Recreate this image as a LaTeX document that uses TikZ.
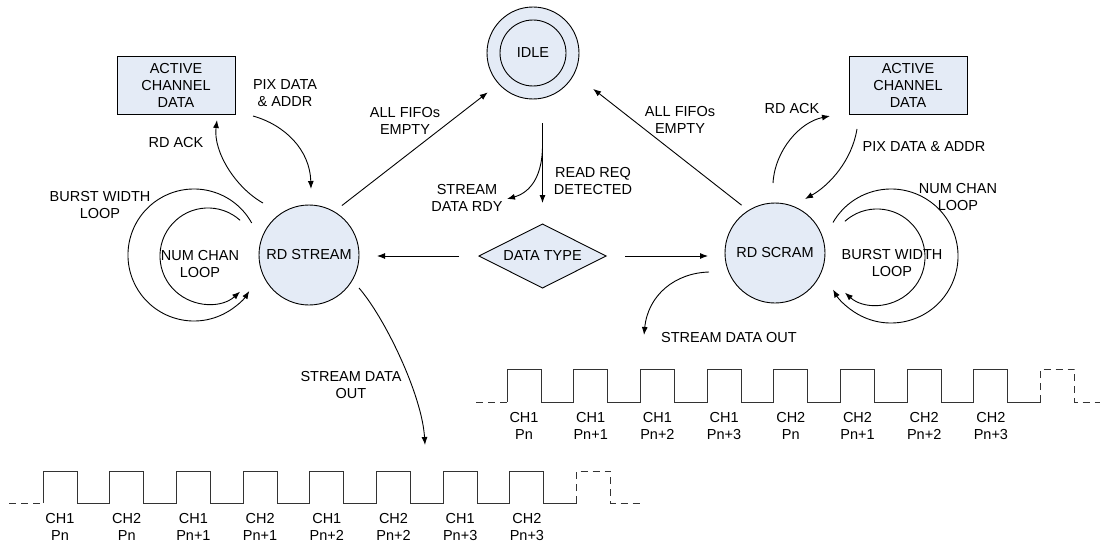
\documentclass[tikz,border=0pt]{standalone}
\usepackage{fontspec}
\setmainfont{Liberation Sans}
\usetikzlibrary{arrows.meta,shapes.geometric,calc}
\definecolor{nodefill}{RGB}{228,235,246}
\begin{document}
\begin{tikzpicture}[x=1pt,y=-1pt,
  every node/.style={font=\fontsize{14.5}{17}\selectfont},
  state/.style={circle,draw,fill=nodefill,line width=0.9pt,inner sep=0pt,outer sep=0pt,minimum size=100pt},
  chanbox/.style={rectangle,draw,fill=nodefill,line width=0.9pt,minimum width=118pt,minimum height=58pt,align=center,inner sep=0pt,outer sep=0pt},
  lbl/.style={align=center,inner sep=0pt},
  arr/.style={-{Latex[length=8pt,width=6pt]},line width=0.9pt},
  wave/.style={line width=0.9pt,black!80},
  wdash/.style={wave,dash pattern=on 7pt off 5pt}]
\useasboundingbox (0,0) rectangle (1100,543);

% nodes
\node[state,minimum size=92pt] (idle) at (533,53) {};
\node[state,minimum size=66pt] (idlein) at (idle.center) {IDLE};
\node[state] (rdstream) at (309,255) {RD STREAM};
\node[state] (rdscram) at (775,253) {RD SCRAM};
\node[diamond,draw,fill=nodefill,line width=0.9pt,aspect=2,inner sep=0pt,outer sep=0pt,minimum width=127pt,minimum height=64pt] (dtype) at (542.5,256) {DATA TYPE};
\node[chanbox] (boxL) at (176,85) {ACTIVE\\CHANNEL\\DATA};
\node[chanbox] (boxR) at (908,85) {ACTIVE\\CHANNEL\\DATA};

% connectors
\draw[arr,shorten <=10pt,shorten >=14pt] (rdstream.60) -- (idle.222);
\draw[arr,shorten <=24pt,shorten >=21pt] (dtype.north |- idle.south) -- (dtype.north);
\coordinate (rdyTip) at (507,199);
\draw[arr] ($(dtype.north |- idle.south)+(0,46)$) .. controls +(0,38) and +(18,-5) .. (rdyTip);
\draw[arr,shorten <=20pt,shorten >=18pt] (dtype.west) -- (dtype.west -| rdstream.east);
\draw[arr,shorten <=19pt,shorten >=17pt] (dtype.east) -- (dtype.east -| rdscram.west);
\draw[arr,shorten <=8.8pt,shorten >=24.3pt] (rdscram.122) -- (idle.333);

\draw[arr] ([shift={(-46,-52)}]rdstream.center) .. controls +(-27,-15) and +(-4,32) .. ([shift={(41,6)}]boxL.south);
\draw[arr] ([shift={(18,2)}]boxL.south east) .. controls +(32,9) and +(-1,-39) .. ([shift={(2,-16)}]rdstream.north);
\draw[arr] ([shift={(-2,-20)}]rdscram.north) .. controls +(2,-33) and +(-30,6) .. ([shift={(-19,2)}]boxR.south west);
\draw[arr] ([shift={(8,15)}]boxR.south west) .. controls +(-5,31) and +(25,-14) .. ([shift={(30,-54)}]rdscram.center);

% loops
\draw[arr] ([shift={(-57.3,-32)}]rdstream.center) arc[start angle=29,end angle=327,radius=66pt];
\draw[arr] ([shift={(-68.9,-34.7)}]rdstream.center) arc[start angle=48,end angle=312,radius=48pt];
\draw[arr] ([shift={(69.9,-31.7)}]rdscram.center) arc[start angle=132,end angle=-132,radius=48pt];
\draw[arr] ([shift={(58,-30.5)}]rdscram.center) arc[start angle=150,end angle=-150,radius=67pt];

% stream data out
\coordinate (sdoL) at (425,445);
\draw[arr] ([shift={(50,33)}]rdstream.center) .. controls +(26,30) and +(-3,-50) .. (sdoL);
\coordinate (sdoR) at (644,335);
\draw[arr] ([shift={(-66,19)}]rdscram.center) .. controls +(-34,1) and +(4,-40) .. (sdoR);

% labels
\node[lbl] (lPixL) at (285,93) {PIX DATA\\\& ADDR};
\node[lbl] (lAckL) at (176,143) {RD ACK};
\node[lbl] (lFifoL) at (405,121) {ALL FIFOs\\EMPTY};
\node[lbl] (lRdy) at (467,198) {STREAM\\DATA RDY};
\node[lbl] (lReq) at (593,181) {READ REQ\\DETECTED};
\node[lbl] (lFifoR) at (680,120) {ALL FIFOs\\EMPTY};
\node[lbl] (lAckR) at (792,109) {RD ACK};
\node[lbl] (lPixR) at (924,147) {PIX DATA \& ADDR};
\node[lbl] (lNumR) at (958,197) {NUM CHAN\\LOOP};
\node[lbl] (lBurstR) at (892,263) {BURST WIDTH\\LOOP};
\node[lbl] (lNumL) at (200,264) {NUM CHAN\\LOOP};
\node[lbl] (lBurstL) at (100,205) {BURST WIDTH\\LOOP};
\node[lbl] (lSdoL) at (351,385) {STREAM DATA\\OUT};
\node[lbl] (lSdoR) at (729,338) {STREAM DATA OUT};

% top waveform
\draw[wdash] (476,402) -- (507,402);
\draw[wave] (507,402) \foreach \k in {1,...,8}{ -- ++(0,-33) -- ++(34,0) -- ++(0,33) -- ++(32.7,0)};
\draw[wdash] (1040.6,402) -- ++(0,-33) -- ++(34,0) -- ++(0,33) -- (1100,402);
\foreach \t [count=\i from 0] in {{CH1\\Pn},{CH1\\Pn+1},{CH1\\Pn+2},{CH1\\Pn+3},{CH2\\Pn},{CH2\\Pn+1},{CH2\\Pn+2},{CH2\\Pn+3}}
  \node[lbl] (wt\i) at ({524+66.7*\i},426) {\t};

% bottom waveform
\draw[wdash] (9,503) -- (43,503);
\draw[wave] (43,503) \foreach \k in {1,...,8}{ -- ++(0,-32) -- ++(34,0) -- ++(0,32) -- ++(32.7,0)};
\draw[wdash] (576.6,503) -- ++(0,-32) -- ++(34,0) -- ++(0,32) -- (640,503);
\foreach \t [count=\i from 0] in {{CH1\\Pn},{CH2\\Pn},{CH1\\Pn+1},{CH2\\Pn+1},{CH1\\Pn+2},{CH2\\Pn+2},{CH1\\Pn+3},{CH2\\Pn+3}}
  \node[lbl] (wb\i) at ({60+66.7*\i},527) {\t};
\end{tikzpicture}
\end{document}
